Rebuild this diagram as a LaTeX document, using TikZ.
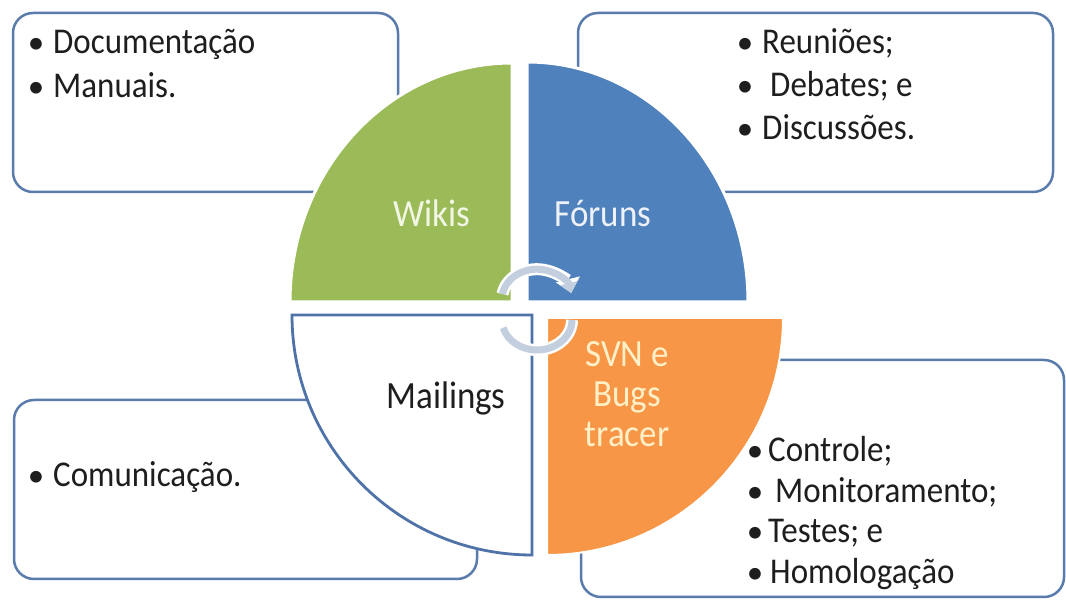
\documentclass[tikz,border=0pt]{standalone}
\usepackage{fontspec}
\usepackage{graphicx}
\setmainfont{Carlito}
\usetikzlibrary{arrows.meta}
\definecolor{boxline}{HTML}{5A7CAC}
\definecolor{qgreen}{HTML}{9BBB59}
\definecolor{qblue}{HTML}{4F81BD}
\definecolor{qorange}{HTML}{F79646}
\definecolor{mailline}{HTML}{4F72A8}
\definecolor{arrowfill}{HTML}{C3CEDF}
\definecolor{txt}{HTML}{1E1E1E}
\definecolor{lblgreen}{HTML}{F2F6E4}
\definecolor{lblblue}{HTML}{EEF2F8}
\definecolor{lblorange}{HTML}{FFF0C8}
\newcommand{\vst}[1]{\scalebox{1}[1.1]{#1}}
\begin{document}
\begin{tikzpicture}[x=1pt,y=1pt,
  infobox/.style={draw=boxline, line width=2.5pt, rounded corners=20pt, fill=white, inner sep=0pt},
  itemtext/.style={anchor=base west, inner sep=0pt, font=\fontsize{33}{40}\selectfont, text=txt},
  bulletdot/.style={anchor=base, inner sep=0pt, font=\fontsize{33}{40}\selectfont, text=txt},
  qlabel/.style={anchor=base, inner sep=0pt, font=\fontsize{35}{40}\selectfont},
  cycwhite/.style={line width=12pt, white, -{Triangle[length=14pt,width=24pt]}},
  cycfill/.style={line width=7pt, arrowfill, -{Triangle[length=10pt,width=17pt]}},
  cycwhiteplain/.style={line width=12pt, white},
  cycfillplain/.style={line width=7pt, arrowfill}
]
\useasboundingbox (0,0) rectangle (1066,601);
\fill[white] (0,0) rectangle (1066,601);

% outer boxes
\node[infobox, minimum width=385pt, minimum height=179pt] (boxTL) at (205.5,498.5) {};
\node[infobox, minimum width=475pt, minimum height=179pt] (boxTR) at (815.5,498.5) {};
\node[infobox, minimum width=463pt, minimum height=179pt] (boxBL) at (245.5,111.5) {};
\node[infobox, minimum width=483pt, minimum height=237pt] (boxBR) at (822.5,122.5) {};

% quadrants
\filldraw[fill=qgreen, draw=white, line width=3pt] (512,299) -- (290,299) arc[start angle=180, end angle=90, x radius=222, y radius=239] -- cycle;
\filldraw[fill=qblue, draw=white, line width=3pt] (527,299) -- (527,539) arc[start angle=90, end angle=0, x radius=221, y radius=240] -- cycle;
\filldraw[fill=white, draw=mailline, line width=2.8pt] (532,286) -- (292,286) arc[start angle=180, end angle=270, x radius=240, y radius=240] -- cycle;
\filldraw[fill=qorange, draw=white, line width=2pt] (547,283) -- (783,283) arc[start angle=0, end angle=-90, x radius=236, y radius=237] -- cycle;

% cycle arrows
\coordinate (arcTop) at (502.5,307);
\coordinate (arcBot) at (572,281);
\draw[cycwhite] (arcTop) arc[start angle=170, end angle=12, x radius=35, y radius=30];
\draw[cycfill] (arcTop) arc[start angle=170, end angle=12, x radius=35, y radius=30];
\draw[cycwhiteplain] (arcBot) arc[start angle=0, end angle=-165, x radius=35, y radius=30];
\draw[cycfillplain] (arcBot) arc[start angle=0, end angle=-165, x radius=35, y radius=30];

% quadrant labels
\node[qlabel, text=lblgreen] (lWikis) at (432,374) {\vst{Wikis}};
\node[qlabel, text=lblblue] (lForuns) at (603,374) {\vst{Fóruns}};
\node[qlabel, text=txt] (lMail) at (446,192) {\vst{Mailings}};
\node[qlabel, text=lblorange] (lSvn1) at (627,234) {\vst{SVN e}};
\node[qlabel, text=lblorange] (lSvn2) at (627,194) {\vst{Bugs}};
\node[qlabel, text=lblorange] (lSvn3) at (627,154) {\vst{tracer}};

% top-left list
\node[bulletdot] (bTL1) at (36,547) {•};
\node[itemtext] (tTL1) at (53,547) {\vst{Documentação}};
\node[bulletdot] (bTL2) at (36,503) {•};
\node[itemtext] (tTL2) at (53,503) {\vst{Manuais.}};

% top-right list
\node[bulletdot] (bTR1) at (745,547) {•};
\node[itemtext] (tTR1) at (762,547) {\vst{Reuniões;}};
\node[bulletdot] (bTR2) at (745,504) {•};
\node[itemtext] (tTR2) at (770,504) {\vst{Debates; e}};
\node[bulletdot] (bTR3) at (745,461) {•};
\node[itemtext] (tTR3) at (762,461) {\vst{Discussões.}};

% bottom-left list
\node[bulletdot] (bBL1) at (36,114) {•};
\node[itemtext] (tBL1) at (53,114) {\vst{Comunicação.}};

% bottom-right list
\node[bulletdot] (bBR1) at (755,139) {•};
\node[itemtext] (tBR1) at (768,139) {\vst{Controle;}};
\node[bulletdot] (bBR2) at (755,98) {•};
\node[itemtext] (tBR2) at (775,98) {\vst{Monitoramento;}};
\node[bulletdot] (bBR3) at (755,58) {•};
\node[itemtext] (tBR3) at (768,58) {\vst{Testes; e}};
\node[bulletdot] (bBR4) at (755,17) {•};
\node[itemtext] (tBR4) at (770,17) {\vst{Homologação}};
\end{tikzpicture}
\end{document}
